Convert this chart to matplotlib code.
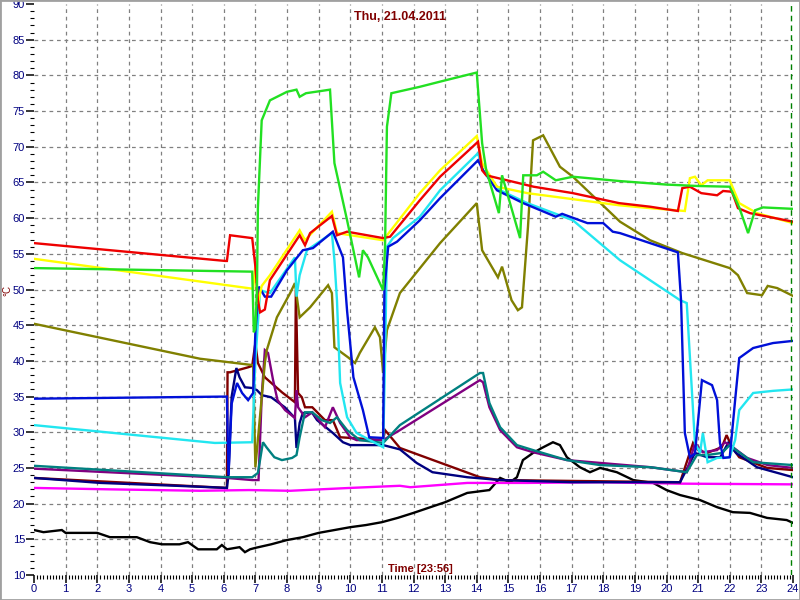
import matplotlib
matplotlib.use("Agg")
import matplotlib.pyplot as plt
from matplotlib.patches import Rectangle
from matplotlib.ticker import MultipleLocator

plt.rcParams['font.family'] = ['Liberation Sans', 'DejaVu Sans']

title = "Thu, 21.04.2011"
xlabel = "Time [23:56]"
ylabel = "°C"
now_marker = 23.93

x_ticks = list(range(0, 25))
y_ticks = list(range(10, 95, 5))

# ---- series (hour, value) ----
black_h = [0, 0.3, 0.88, 1.0, 2.0, 2.4, 3.25, 3.67, 4.05, 4.6, 4.87, 5.19, 5.78, 5.94, 6.1, 6.5, 6.67, 6.83, 7.0, 7.5, 8.0, 8.5, 9.0, 9.5, 10.0, 10.5, 11.0, 11.5, 12.0, 12.6, 13.0, 13.7, 14.4, 14.74, 15.05, 15.27, 15.46, 15.78, 16.06, 16.41, 16.63, 16.85, 17.26, 17.58, 17.9, 18.43, 18.95, 19.58, 20.0, 20.43, 21.06, 21.6, 22.1, 22.64, 23.18, 23.8, 24.0]
black_v = [16.3, 16.0, 16.3, 15.9, 15.9, 15.3, 15.3, 14.6, 14.3, 14.3, 14.6, 13.6, 13.6, 14.2, 13.6, 13.9, 13.2, 13.6, 13.8, 14.3, 14.9, 15.3, 15.9, 16.3, 16.7, 17.0, 17.4, 18.0, 18.7, 19.6, 20.2, 21.5, 21.9, 23.6, 23.0, 23.7, 26.1, 27.1, 27.8, 28.6, 28.2, 26.5, 25.1, 24.4, 25.0, 24.4, 23.3, 22.9, 21.9, 21.2, 20.5, 19.5, 18.8, 18.7, 18.0, 17.7, 17.3]

magenta_h = [0, 2.4, 5.25, 6.8, 8.1, 10.0, 11.57, 11.9, 13.7, 15.6, 17.9, 20.4, 24]
magenta_v = [22.2, 22.0, 21.8, 21.9, 21.8, 22.2, 22.5, 22.3, 22.9, 22.9, 23.0, 22.8, 22.7]

red_h = [0, 6.05, 6.1, 6.2, 6.9, 7.0, 7.08, 7.15, 7.3, 7.46, 8.4, 8.57, 8.73, 9.42, 9.58, 9.9, 11.04, 11.26, 12.2, 12.84, 14.04, 14.17, 14.3, 15.8, 17.04, 18.5, 19.48, 20.36, 20.5, 20.74, 21.1, 21.6, 21.79, 22.07, 22.26, 22.64, 24.0]
red_v = [56.5, 54.0, 54.0, 57.6, 57.2, 53.2, 48.5, 46.8, 47.2, 51.3, 57.6, 56.2, 57.9, 60.3, 57.6, 58.1, 57.2, 57.4, 62.5, 65.8, 70.7, 66.7, 66.0, 64.4, 63.5, 62.1, 61.6, 61.0, 64.2, 64.4, 63.5, 63.2, 63.8, 63.7, 61.4, 60.7, 59.5]

yellow_h = [0, 6.93, 7.0, 7.08, 7.2, 7.46, 8.4, 8.57, 9.42, 9.58, 11.04, 12.2, 12.84, 14.0, 14.17, 14.64, 15.6, 18.5, 19.48, 20.58, 20.74, 20.9, 21.1, 21.3, 22.0, 22.3, 22.86, 24.0]
yellow_v = [54.3, 50.1, 53.4, 48.0, 50.5, 52.0, 58.3, 56.9, 60.9, 57.9, 56.9, 63.5, 66.7, 71.5, 67.7, 64.4, 63.5, 61.8, 61.4, 61.0, 65.6, 65.8, 64.6, 65.3, 65.3, 62.1, 60.7, 59.3]

green_h = [0, 6.9, 6.95, 7.0, 7.05, 7.08, 7.2, 7.46, 8.0, 8.3, 8.4, 8.6, 9.36, 9.5, 9.9, 10.28, 10.4, 10.56, 11.04, 11.1, 11.16, 11.3, 12.2, 13.0, 14.0, 14.17, 14.3, 14.7, 14.8, 15.37, 15.47, 15.9, 16.1, 16.5, 17.04, 18.5, 20.0, 21.0, 22.0, 22.3, 22.58, 22.8, 23.05, 24.0]
green_v = [53.0, 52.5, 44.0, 44.5, 50.0, 61.5, 73.7, 76.5, 77.7, 78.0, 77.0, 77.5, 78.0, 67.7, 59.7, 51.7, 55.5, 54.5, 49.9, 56.0, 72.8, 77.5, 78.4, 79.3, 80.4, 70.5, 66.7, 60.7, 66.0, 57.2, 66.0, 66.0, 66.5, 65.3, 65.8, 65.2, 64.7, 64.5, 64.4, 61.5, 57.9, 61.1, 61.5, 61.3]

cyan_h = [0, 5.72, 6.9, 7.0, 7.15, 7.46, 8.25, 8.3, 8.4, 8.63, 9.42, 9.5, 9.58, 9.68, 9.9, 10.2, 11.04, 11.1, 11.16, 11.35, 12.2, 12.84, 14.04, 14.2, 14.74, 15.6, 17.04, 18.53, 20.43, 20.64, 20.9, 21.06, 21.15, 21.3, 21.6, 22.0, 22.17, 22.3, 22.74, 23.37, 24.0]
cyan_v = [31.0, 28.5, 28.6, 40.0, 49.9, 49.5, 54.5, 49.0, 52.0, 55.5, 57.9, 54.1, 48.5, 36.9, 32.1, 29.9, 27.9, 40.0, 56.0, 57.2, 60.2, 63.9, 69.1, 66.7, 63.9, 62.1, 59.7, 54.1, 48.5, 48.1, 28.5, 27.1, 29.9, 25.8, 26.4, 26.5, 28.9, 33.1, 35.5, 35.8, 36.0]

blue_h = [0, 6.1, 6.15, 6.25, 6.42, 6.58, 6.77, 6.93, 7.0, 7.11, 7.3, 7.5, 8.0, 8.5, 8.82, 9.45, 9.77, 9.9, 10.1, 10.4, 10.6, 11.04, 11.08, 11.2, 11.48, 12.2, 12.84, 14.04, 14.2, 14.64, 15.47, 16.5, 16.7, 17.5, 18.0, 18.3, 18.53, 19.48, 20.36, 20.46, 20.58, 20.74, 20.9, 21.12, 21.44, 21.6, 21.69, 21.8, 22.0, 22.17, 22.3, 22.74, 23.37, 24.0]
blue_v = [34.7, 35.0, 24.0, 34.0, 36.9, 35.5, 34.5, 35.5, 44.0, 50.4, 49.0, 49.0, 52.7, 55.5, 55.8, 58.1, 54.5, 47.0, 37.7, 33.1, 29.3, 29.2, 50.0, 56.0, 56.7, 59.7, 62.8, 68.1, 66.7, 63.9, 62.1, 60.2, 60.6, 59.3, 59.3, 58.1, 57.9, 56.5, 55.2, 48.5, 29.9, 26.5, 27.0, 37.3, 36.6, 34.5, 28.5, 26.4, 26.5, 34.5, 40.4, 41.8, 42.5, 42.8]

olive_h = [0, 5.25, 6.93, 7.0, 7.3, 7.36, 7.68, 8.1, 8.25, 8.4, 8.73, 9.3, 9.42, 9.5, 9.93, 10.15, 10.3, 10.78, 10.94, 11.04, 11.16, 11.57, 12.84, 14.0, 14.17, 14.67, 14.8, 15.1, 15.3, 15.43, 15.62, 15.78, 16.1, 16.63, 17.04, 18.53, 19.48, 20.5, 22.0, 22.26, 22.55, 23.02, 23.2, 23.5, 24.0]
olive_v = [45.2, 40.3, 39.4, 25.1, 39.7, 41.5, 46.1, 49.5, 50.9, 46.1, 47.5, 50.6, 49.5, 41.9, 40.5, 39.7, 41.1, 44.7, 43.3, 38.3, 44.3, 49.5, 56.5, 62.1, 55.5, 51.7, 53.2, 48.5, 47.1, 47.5, 58.8, 70.9, 71.6, 67.2, 65.8, 59.5, 56.9, 55.1, 53.0, 52.0, 49.5, 49.2, 50.5, 50.2, 49.1]

maroon_h = [0, 6.1, 6.12, 6.2, 6.77, 6.9, 7.0, 7.08, 7.3, 7.84, 8.25, 8.28, 8.35, 8.47, 8.57, 8.8, 9.2, 9.45, 9.68, 11.04, 11.1, 11.57, 14.1, 14.74, 20.43, 20.84, 21.0, 21.28, 21.75, 21.9, 22.07, 22.3, 23.18, 24.0]
maroon_v = [23.6, 22.2, 38.4, 38.4, 39.1, 39.3, 42.5, 39.7, 37.7, 35.6, 34.2, 49.9, 35.5, 34.9, 33.5, 33.5, 31.7, 31.7, 29.3, 28.9, 30.3, 27.8, 23.7, 23.3, 23.0, 28.5, 27.5, 27.1, 27.9, 29.6, 27.9, 26.5, 25.0, 24.7]

navy_h = [0, 2.1, 4.5, 6.1, 6.15, 6.25, 6.4, 6.5, 6.67, 6.9, 7.05, 7.2, 7.5, 7.93, 8.25, 8.3, 8.4, 8.5, 8.8, 8.95, 9.45, 9.77, 10.0, 11.04, 11.57, 12.1, 12.6, 13.7, 14.74, 17.0, 20.43, 20.9, 21.28, 21.7, 21.95, 22.2, 22.86, 24.0]
navy_v = [23.6, 22.9, 22.5, 22.2, 24.0, 35.0, 39.0, 37.7, 36.3, 36.2, 35.9, 35.2, 34.9, 33.5, 32.0, 27.8, 31.3, 32.7, 32.7, 31.7, 29.9, 28.6, 28.2, 28.2, 27.6, 25.7, 24.4, 23.7, 23.3, 23.0, 23.0, 27.1, 26.5, 26.5, 28.5, 27.1, 25.1, 23.7]

purple_h = [0, 6.1, 6.9, 7.1, 7.2, 7.3, 7.4, 7.56, 7.7, 7.94, 8.25, 8.3, 8.35, 8.57, 8.8, 9.2, 9.45, 9.68, 10.0, 10.2, 11.04, 11.57, 14.1, 14.2, 14.4, 14.74, 15.27, 15.78, 16.85, 19.5, 20.64, 20.9, 21.15, 21.6, 21.85, 22.1, 22.55, 23.2, 24.0]
purple_v = [24.9, 23.6, 23.3, 23.3, 35.0, 41.5, 41.1, 37.3, 34.5, 33.1, 32.0, 35.9, 33.5, 32.1, 32.8, 30.7, 33.5, 31.3, 29.3, 28.9, 28.9, 30.3, 37.3, 37.0, 33.5, 30.3, 27.9, 27.2, 26.1, 25.1, 24.4, 28.5, 27.2, 27.5, 28.6, 27.9, 26.4, 25.4, 25.0]

teal_h = [0, 6.1, 6.9, 7.08, 7.24, 7.35, 7.6, 7.84, 8.16, 8.3, 8.4, 8.57, 8.8, 9.1, 9.36, 9.58, 9.9, 10.3, 11.04, 11.57, 14.1, 14.2, 14.4, 14.74, 15.27, 15.78, 16.85, 17.9, 19.5, 20.64, 20.96, 21.28, 21.75, 22.0, 22.2, 22.74, 24.0]
teal_v = [25.3, 23.7, 23.7, 24.3, 28.6, 27.9, 26.5, 26.1, 26.4, 26.8, 29.3, 32.8, 32.8, 31.7, 31.3, 32.1, 30.3, 28.9, 28.5, 31.0, 38.3, 38.3, 34.1, 30.7, 28.2, 27.5, 26.1, 25.4, 25.1, 24.4, 26.8, 26.8, 27.1, 28.2, 27.5, 25.8, 25.4]

series = [
    (black_h, black_v, '#000000'),
    (magenta_h, magenta_v, '#ff00ff'),
    (maroon_h, maroon_v, '#800000'),
    (navy_h, navy_v, '#000080'),
    (purple_h, purple_v, '#800080'),
    (teal_h, teal_v, '#008080'),
    (olive_h, olive_v, '#808000'),
    (cyan_h, cyan_v, '#22e6f0'),
    (blue_h, blue_v, '#0010d8'),
    (yellow_h, yellow_v, '#ffff00'),
    (red_h, red_v, '#ee0000'),
    (green_h, green_v, '#22e022'),
]

fig = plt.figure(figsize=(8, 6), dpi=100)
ax = fig.add_axes([34/800, 25/600, (793-34)/800, (575-4)/600])
ax.set_xlim(0, 24)
ax.set_ylim(10, 90)
for s in ax.spines.values():
    s.set_visible(False)

for h in x_ticks[1:-1]:
    ax.axvline(h, color='#808080', lw=0.9, ls=(0, (3, 3)), zorder=0)
for v in y_ticks[1:-1]:
    ax.axhline(v, color='#808080', lw=0.9, ls=(0, (3, 3)), zorder=0)

for hs, vs, c in series:
    ax.plot(hs, vs, color=c, lw=1.7, solid_joinstyle='miter')

ax.axvline(now_marker, color='#008000', lw=1, ls=(0, (4, 3)))

ax.set_xticks(x_ticks)
ax.set_yticks(y_ticks)
ax.xaxis.set_minor_locator(MultipleLocator(0.1))
ax.yaxis.set_minor_locator(MultipleLocator(1))
ax.tick_params(axis='both', which='major', direction='out', length=6, width=1.1,
               color='black', labelcolor='#000080', labelsize=8, pad=0.5)
ax.tick_params(axis='both', which='minor', direction='out', length=3, width=0.8, color='black')

fig.text(0.5, 1 - 17/600, title, ha='center', va='center', color='#800000',
         fontweight='bold', fontsize=9)
fig.text(420/800, 1 - 569/600, xlabel, ha='center', va='center', color='#800000',
         fontweight='bold', fontsize=8)
fig.text(7/800, 1 - 290/600, ylabel, ha='center', va='center', color='#800000',
         fontsize=7, rotation=90)

fig.patches.append(Rectangle((0, 0), 1, 1, transform=fig.transFigure, fill=False,
                             edgecolor='#a0a0a0', lw=2))

fig.savefig('out.png', dpi=100)
